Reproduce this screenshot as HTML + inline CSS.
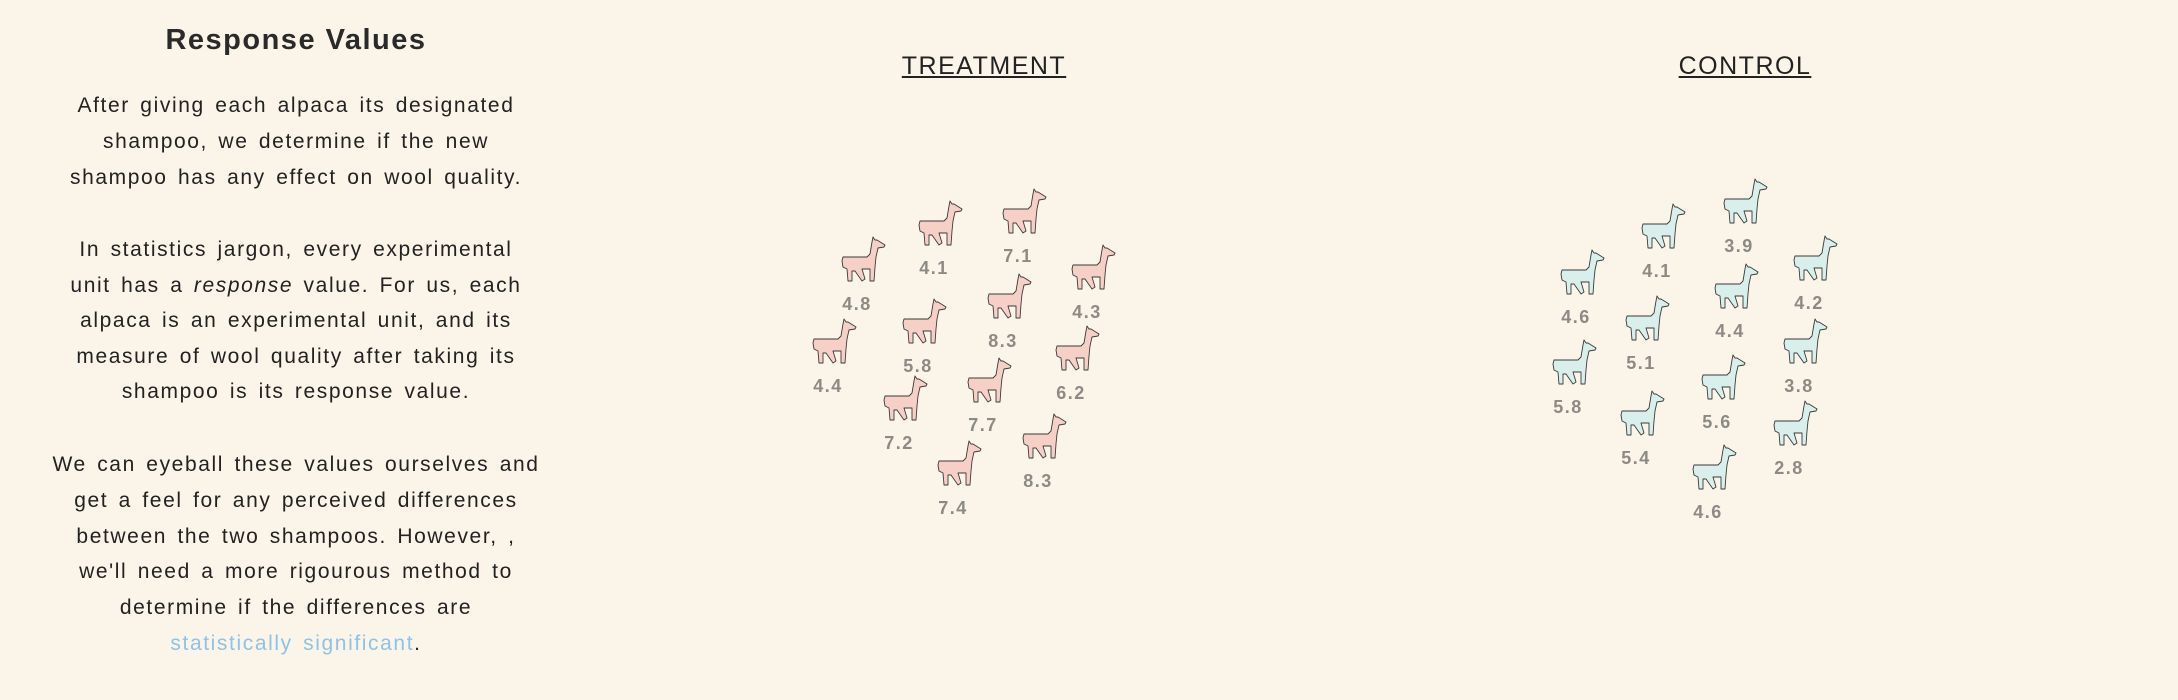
<!DOCTYPE html>
<html><head><meta charset="utf-8"><style>
html,body{margin:0;padding:0;background:#fbf4e9;}
body{width:2178px;height:700px;position:relative;overflow:hidden;font-family:"Liberation Sans",sans-serif;color:#222;}
#left{position:absolute;left:0;top:0;width:592px;text-align:center;}
#title{position:absolute;left:0;width:592px;top:24px;font-size:29px;letter-spacing:1.5px;font-weight:bold;color:#2a2a2a;}
.ln{position:absolute;left:0;width:592px;font-size:21px;letter-spacing:1.6px;word-spacing:3px;}
.hdr{position:absolute;font-size:25px;letter-spacing:1.5px;text-decoration:underline;transform:translateX(-50%);top:52px;}
svg{position:absolute;left:0;top:0;}
</style></head><body>
<div id="left">
<div id="title">Response Values</div>
<div class="ln" style="top:94px">After giving each alpaca its designated</div>
<div class="ln" style="top:130px">shampoo, we determine if the new</div>
<div class="ln" style="top:166px">shampoo has any effect on wool quality.</div>
<div class="ln" style="top:238px">In statistics jargon, every experimental</div>
<div class="ln" style="top:274px">unit has a <i>response</i> value. For us, each</div>
<div class="ln" style="top:309px">alpaca is an experimental unit, and its</div>
<div class="ln" style="top:345px">measure of wool quality after taking its</div>
<div class="ln" style="top:380px">shampoo is its response value.</div>
<div class="ln" style="top:453px">We can eyeball these values ourselves and</div>
<div class="ln" style="top:489px">get a feel for any perceived differences</div>
<div class="ln" style="top:525px">between the two shampoos. However, ,</div>
<div class="ln" style="top:560px">we'll need a more rigourous method to</div>
<div class="ln" style="top:596px">determine if the differences are</div>
<div class="ln" style="top:632px"><span style="color:#8ec3e6">statistically significant</span>.</div>
</div>
<div class="hdr" style="left:984px">TREATMENT</div>
<div class="hdr" style="left:1745px">CONTROL</div>
<svg id="chart" width="2178" height="700"></svg>
<script>
const treatmentValues=[4.8,4.1,7.1,4.3,8.3,5.8,4.4,6.2,7.7,7.2,8.3,7.4];
const treatmentX=[857,934,1018,1087,1003,918,828,1071,983,899,1038,953];
const treatmentY=[304,268,256,312,341,366,386,393,425,443,481,508];
const controlValues=[4.6,4.1,3.9,4.2,4.4,5.1,5.8,3.8,5.6,5.4,2.8,4.6];
const controlX=[1576,1657,1739,1809,1730,1641,1568,1799,1717,1636,1789,1708];
const controlY=[317,271,246,303,331,363,407,386,422,458,468,512];
const NS="http://www.w3.org/2000/svg";
const svg=document.getElementById('chart');
const shape="M3,20 L27,20 L30,17 L32,5 L33,0 L35,3 L37,3 L45,8 L44,10 L38,11 L36,20 L35,30 L34,44 L30,44 L30,32 L22,32 L25,42 L22,44 L15,34 L12,34 L12,44 L8,44 L7,32 L3,30 L2,24 Z";
function draw(vals,xs,ys,fill,group){
  for(let i=0;i<vals.length;i++){
    const g=document.createElementNS(NS,'g');
    
    
    const p=document.createElementNS(NS,'path');
    p.setAttribute('d',shape);
    p.setAttribute('fill',fill);
    p.setAttribute('stroke','#3a3a3a');
    p.setAttribute('stroke-width','0.9');
    p.setAttribute('stroke-linejoin','round');
    p.setAttribute('transform','translate('+(xs[i]-17)+','+(ys[i]-67)+')');
    
    
    g.appendChild(p);
    const t=document.createElementNS(NS,'text');
    t.setAttribute('x',xs[i]);t.setAttribute('y',ys[i]+6);
    t.setAttribute('text-anchor','middle');
    t.setAttribute('font-size','18');
    t.setAttribute('font-weight','bold');
    t.setAttribute('font-family','Liberation Sans, sans-serif');
    t.setAttribute('fill','#8c8a84');
    t.setAttribute('letter-spacing','1.5');
    
    
    t.textContent=vals[i].toFixed(1);
    g.appendChild(t);
    svg.appendChild(g);
  }
}
draw(treatmentValues,treatmentX,treatmentY,'#f6d0c6','treatment');
draw(controlValues,controlX,controlY,'#d8efeb','control');
</script>
</body></html>
